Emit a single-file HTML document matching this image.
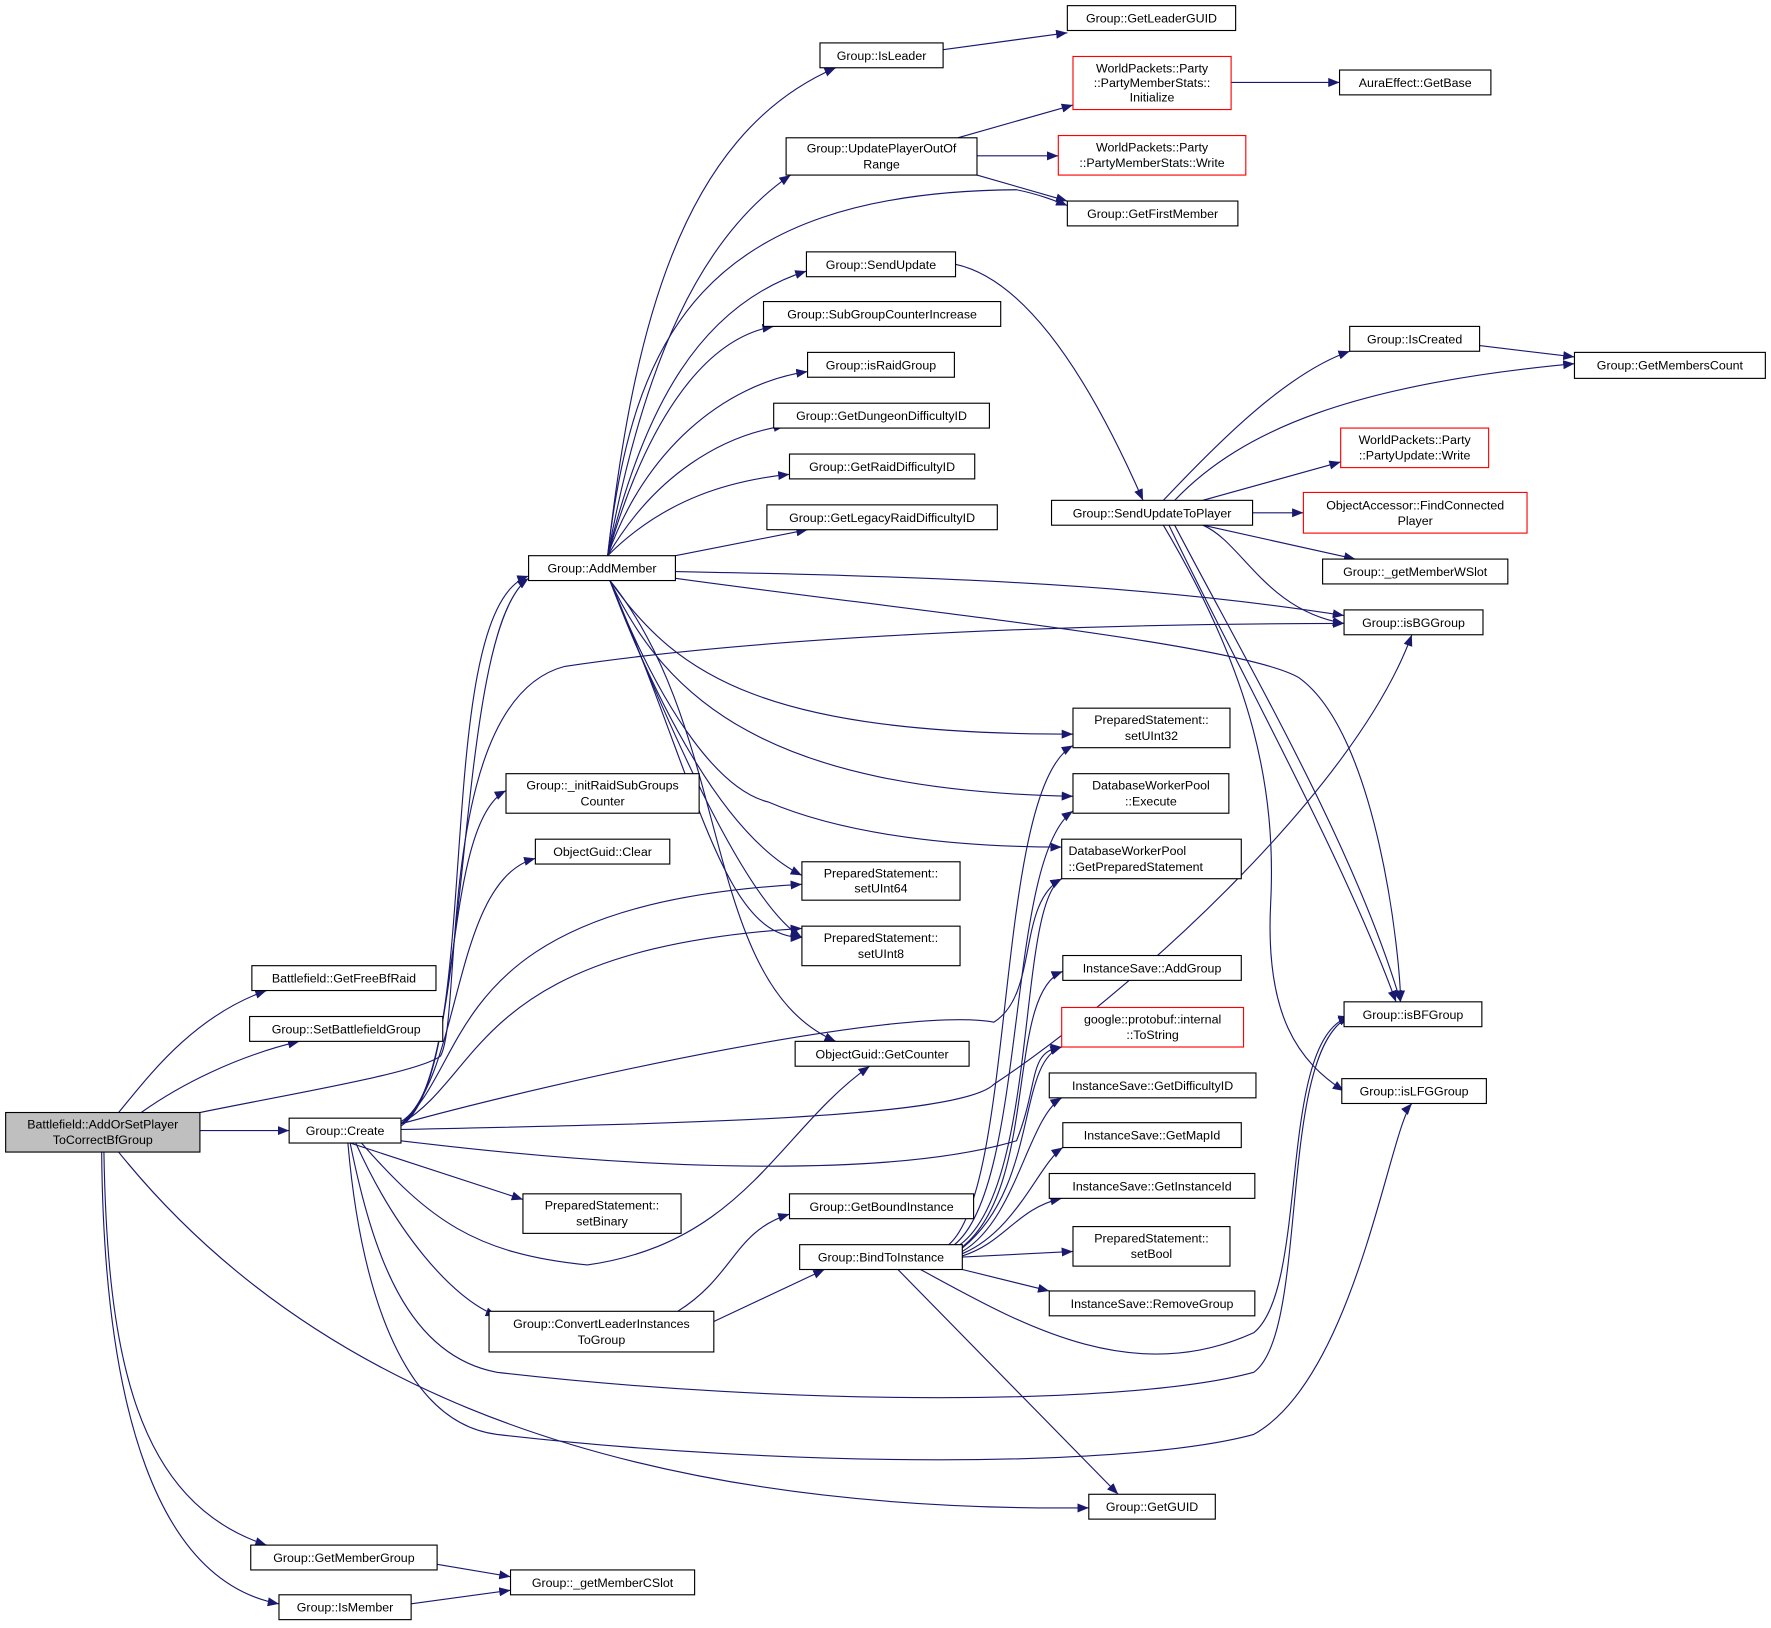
<!DOCTYPE html>
<html><head><meta charset="utf-8"><style>
html,body{margin:0;padding:0;background:#fff;}
svg{display:block;}
text{font-family:"Liberation Sans","DejaVu Sans",sans-serif;font-size:11px;fill:#000;}
.n{fill:#fff;stroke:#000;stroke-width:1;}
.r{fill:#fff;stroke:#f00;stroke-width:1;}
.e{fill:none;stroke:#191970;stroke-width:1;}
</style></head><body>
<svg width="1771" height="1628" viewBox="0 0 1568 1441.4" xmlns="http://www.w3.org/2000/svg">
<defs><marker id="a" viewBox="0 0 10 8" refX="10" refY="4" markerWidth="10" markerHeight="8" markerUnits="userSpaceOnUse" orient="auto"><path d="M0,0 L10,4 L0,8 z" fill="#191970"/></marker></defs>
<g class="e" marker-end="url(#a)">
<path d="M105,985 C130,955 170,900 236,877"/>
<path d="M125,985 C160,960 210,935 265,922"/>
<path d="M177,985 C260,968 370,950 390,935 C410,900 385,620 500,590 C700,560 1000,552 1190,552"/>
<path d="M177,1001 L256,1001"/>
<path d="M105,1020 C250,1200 500,1340 964,1335"/>
<path d="M92,1020 C95,1200 120,1330 236,1368"/>
<path d="M90,1020 C92,1250 140,1400 247,1420"/>
<path d="M387,1385 L452,1396"/>
<path d="M364,1420 L452,1408"/>
<path d="M355,995 C420,960 400,560 468,512"/>
<path d="M355,993 C430,950 380,540 468,510"/>
<path d="M355,997 C410,960 390,730 448,700"/>
<path d="M355,995 C410,950 400,780 474,760"/>
<path d="M355,995 C420,940 390,800 710,783"/>
<path d="M355,995 C430,950 420,840 710,822"/>
<path d="M355,995 C500,955 800,890 880,905 C920,880 900,800 940,778"/>
<path d="M355,1000 C600,995 850,990 880,960 C1000,880 1200,700 1250,562"/>
<path d="M355,1010 C600,1040 800,1040 900,1010 C920,960 910,930 940,927"/>
<path d="M310,1012 L463,1062"/>
<path d="M320,1012 C380,1080 420,1110 520,1120 C660,1100 690,1000 770,944"/>
<path d="M315,1012 C350,1090 400,1150 440,1165"/>
<path d="M310,1012 C330,1110 360,1200 440,1215 C700,1245 1000,1245 1110,1215 C1160,1180 1130,930 1195,900"/>
<path d="M308,1012 C320,1150 360,1260 440,1270 C700,1300 1000,1300 1110,1270 C1200,1220 1230,1000 1250,977"/>
<path d="M538,492 C560,300 600,120 740,60"/>
<path d="M538,492 C570,320 620,210 700,155"/>
<path d="M538,492 C560,300 620,170 900,168 C920,172 935,178 945,182"/>
<path d="M538,492 C570,360 620,270 714,240"/>
<path d="M538,492 C570,380 620,300 685,289"/>
<path d="M538,492 C570,400 640,340 715,329"/>
<path d="M538,492 C580,420 640,385 695,377"/>
<path d="M538,492 C590,440 650,425 699,420"/>
<path d="M598,492 L715,469"/>
<path d="M598,506 C800,510 1000,515 1190,545"/>
<path d="M598,512 C800,540 1100,570 1150,600 C1220,650 1240,850 1240,887"/>
<path d="M540,514 C600,600 680,650 950,650"/>
<path d="M540,514 C590,620 680,700 950,705"/>
<path d="M540,514 C590,640 640,700 680,710 C750,740 850,750 940,750"/>
<path d="M540,514 C580,620 640,740 710,775"/>
<path d="M540,514 C590,640 660,800 710,830"/>
<path d="M540,514 C620,700 640,830 710,830"/>
<path d="M540,514 C650,650 620,870 740,922"/>
<path d="M848,122 L950,93"/>
<path d="M865,138 L937,138"/>
<path d="M865,155 L945,178"/>
<path d="M1090,73 L1186,73"/>
<path d="M835,44 L945,29"/>
<path d="M846,234 C920,250 980,370 1012,443"/>
<path d="M1030,443 C1080,390 1140,330 1195,311"/>
<path d="M1040,443 C1100,380 1200,340 1394,322"/>
<path d="M1310,306 L1394,316"/>
<path d="M1065,443 L1187,409"/>
<path d="M1109,454 L1154,454"/>
<path d="M1065,465 L1200,495"/>
<path d="M1065,465 C1100,480 1120,540 1190,552"/>
<path d="M1040,465 C1100,580 1200,750 1240,887"/>
<path d="M1035,465 C1090,580 1190,760 1236,887"/>
<path d="M1030,465 C1110,600 1130,700 1125,800 C1120,900 1150,940 1190,966"/>
<path d="M600,1161 C650,1130 650,1090 699,1075"/>
<path d="M632,1170 L730,1124"/>
<path d="M840,1102 C900,1050 880,700 950,660"/>
<path d="M845,1102 C910,1050 890,760 950,718"/>
<path d="M850,1102 C920,1050 900,800 940,778"/>
<path d="M852,1104 C920,1050 890,880 941,860"/>
<path d="M852,1105 C920,1050 900,940 940,927"/>
<path d="M852,1108 C900,1080 910,990 940,972"/>
<path d="M852,1110 C900,1090 920,1030 941,1016"/>
<path d="M852,1112 C890,1100 900,1070 940,1061"/>
<path d="M852,1113 L950,1108"/>
<path d="M852,1124 L929,1143"/>
<path d="M795,1124 L990,1323"/>
<path d="M815,1124 C900,1170 1000,1230 1110,1180 C1160,1140 1130,920 1195,900"/>
</g>
<g>
<rect x="5" y="985" width="172" height="35" fill="#bfbfbf" stroke="#000"/>
<text x="91" y="999" text-anchor="middle">Battlefield::AddOrSetPlayer</text><text x="91" y="1013" text-anchor="middle">ToCorrectBfGroup</text>
<rect class="n" x="223" y="855" width="163" height="22"/><text x="304.5" y="870" text-anchor="middle">Battlefield::GetFreeBfRaid</text>
<rect class="n" x="221" y="900" width="171" height="22"/><text x="306.5" y="915" text-anchor="middle">Group::SetBattlefieldGroup</text>
<rect class="n" x="256" y="990" width="99" height="22"/><text x="305.5" y="1005" text-anchor="middle">Group::Create</text>
<rect class="n" x="222" y="1368" width="165" height="22"/><text x="304.5" y="1383" text-anchor="middle">Group::GetMemberGroup</text>
<rect class="n" x="247" y="1412" width="117" height="22"/><text x="305.5" y="1427" text-anchor="middle">Group::IsMember</text>
<rect class="n" x="452" y="1390" width="163" height="22"/><text x="533.5" y="1405" text-anchor="middle">Group::_getMemberCSlot</text>
<rect class="n" x="468" y="492" width="130" height="22"/><text x="533" y="507" text-anchor="middle">Group::AddMember</text>
<rect class="n" x="448" y="685" width="171" height="35"/><text x="533.5" y="699" text-anchor="middle">Group::_initRaidSubGroups</text><text x="533.5" y="713" text-anchor="middle">Counter</text>
<rect class="n" x="474" y="743" width="119" height="22"/><text x="533.5" y="758" text-anchor="middle">ObjectGuid::Clear</text>
<rect class="n" x="463" y="1057" width="140" height="35"/><text x="533" y="1071" text-anchor="middle">PreparedStatement::</text><text x="533" y="1085" text-anchor="middle">setBinary</text>
<rect class="n" x="433" y="1161" width="199" height="36"/><text x="532.5" y="1176" text-anchor="middle">Group::ConvertLeaderInstances</text><text x="532.5" y="1190" text-anchor="middle">ToGroup</text>
<rect class="n" x="726" y="38" width="109" height="22"/><text x="780.5" y="53" text-anchor="middle">Group::IsLeader</text>
<rect class="n" x="945" y="5" width="149" height="22"/><text x="1019.5" y="20" text-anchor="middle">Group::GetLeaderGUID</text>
<rect class="n" x="696" y="122" width="169" height="33"/><text x="780.5" y="135" text-anchor="middle">Group::UpdatePlayerOutOf</text><text x="780.5" y="149" text-anchor="middle">Range</text>
<rect class="r" x="950" y="50" width="140" height="47"/><text x="1020" y="64" text-anchor="middle">WorldPackets::Party</text><text x="1020" y="77" text-anchor="middle">::PartyMemberStats::</text><text x="1020" y="90" text-anchor="middle">Initialize</text>
<rect class="n" x="1186" y="62" width="134" height="22"/><text x="1253" y="77" text-anchor="middle">AuraEffect::GetBase</text>
<rect class="r" x="937" y="120" width="166" height="35"/><text x="1020" y="134" text-anchor="middle">WorldPackets::Party</text><text x="1020" y="148" text-anchor="middle">::PartyMemberStats::Write</text>
<rect class="n" x="945" y="178" width="151" height="22"/><text x="1020.5" y="193" text-anchor="middle">Group::GetFirstMember</text>
<rect class="n" x="714" y="223" width="132" height="22"/><text x="780" y="238" text-anchor="middle">Group::SendUpdate</text>
<rect class="n" x="676" y="267" width="210" height="22"/><text x="781" y="282" text-anchor="middle">Group::SubGroupCounterIncrease</text>
<rect class="n" x="715" y="312" width="130" height="22"/><text x="780" y="327" text-anchor="middle">Group::isRaidGroup</text>
<rect class="n" x="685" y="357" width="191" height="22"/><text x="780.5" y="372" text-anchor="middle">Group::GetDungeonDifficultyID</text>
<rect class="n" x="699" y="402" width="164" height="22"/><text x="781" y="417" text-anchor="middle">Group::GetRaidDifficultyID</text>
<rect class="n" x="679" y="447" width="204" height="22"/><text x="781" y="462" text-anchor="middle">Group::GetLegacyRaidDifficultyID</text>
<rect class="n" x="931" y="443" width="178" height="22"/><text x="1020" y="458" text-anchor="middle">Group::SendUpdateToPlayer</text>
<rect class="n" x="1195" y="289" width="115" height="22"/><text x="1252.5" y="304" text-anchor="middle">Group::IsCreated</text>
<rect class="n" x="1394" y="312" width="169" height="23"/><text x="1478.5" y="327" text-anchor="middle">Group::GetMembersCount</text>
<rect class="r" x="1187" y="379" width="131" height="35"/><text x="1252.5" y="393" text-anchor="middle">WorldPackets::Party</text><text x="1252.5" y="407" text-anchor="middle">::PartyUpdate::Write</text>
<rect class="r" x="1154" y="436" width="198" height="36"/><text x="1253" y="451" text-anchor="middle">ObjectAccessor::FindConnected</text><text x="1253" y="465" text-anchor="middle">Player</text>
<rect class="n" x="1171" y="495" width="164" height="22"/><text x="1253" y="510" text-anchor="middle">Group::_getMemberWSlot</text>
<rect class="n" x="1190" y="540" width="123" height="22"/><text x="1251.5" y="555" text-anchor="middle">Group::isBGGroup</text>
<rect class="n" x="950" y="627" width="139" height="35"/><text x="1019.5" y="641" text-anchor="middle">PreparedStatement::</text><text x="1019.5" y="655" text-anchor="middle">setUInt32</text>
<rect class="n" x="950" y="685" width="138" height="35"/><text x="1019" y="699" text-anchor="middle">DatabaseWorkerPool</text><text x="1019" y="713" text-anchor="middle">::Execute</text>
<rect class="n" x="940" y="743" width="159" height="35"/><text x="946" y="757">DatabaseWorkerPool</text><text x="946" y="771">::GetPreparedStatement</text>
<rect class="n" x="710" y="763" width="140" height="34"/><text x="780" y="777" text-anchor="middle">PreparedStatement::</text><text x="780" y="790" text-anchor="middle">setUInt64</text>
<rect class="n" x="710" y="820" width="140" height="35"/><text x="780" y="834" text-anchor="middle">PreparedStatement::</text><text x="780" y="848" text-anchor="middle">setUInt8</text>
<rect class="n" x="704" y="922" width="154" height="22"/><text x="781" y="937" text-anchor="middle">ObjectGuid::GetCounter</text>
<rect class="n" x="941" y="846" width="158" height="22"/><text x="1020" y="861" text-anchor="middle">InstanceSave::AddGroup</text>
<rect class="r" x="940" y="892" width="161" height="35"/><text x="1020.5" y="906" text-anchor="middle">google::protobuf::internal</text><text x="1020.5" y="920" text-anchor="middle">::ToString</text>
<rect class="n" x="929" y="950" width="183" height="22"/><text x="1020.5" y="965" text-anchor="middle">InstanceSave::GetDifficultyID</text>
<rect class="n" x="941" y="994" width="158" height="22"/><text x="1020" y="1009" text-anchor="middle">InstanceSave::GetMapId</text>
<rect class="n" x="929" y="1039" width="182" height="22"/><text x="1020" y="1054" text-anchor="middle">InstanceSave::GetInstanceId</text>
<rect class="n" x="950" y="1086" width="139" height="35"/><text x="1019.5" y="1100" text-anchor="middle">PreparedStatement::</text><text x="1019.5" y="1114" text-anchor="middle">setBool</text>
<rect class="n" x="929" y="1143" width="182" height="22"/><text x="1020" y="1158" text-anchor="middle">InstanceSave::RemoveGroup</text>
<rect class="n" x="699" y="1057" width="163" height="22"/><text x="780.5" y="1072" text-anchor="middle">Group::GetBoundInstance</text>
<rect class="n" x="708" y="1102" width="144" height="22"/><text x="780" y="1117" text-anchor="middle">Group::BindToInstance</text>
<rect class="n" x="1190" y="887" width="122" height="22"/><text x="1251" y="902" text-anchor="middle">Group::isBFGroup</text>
<rect class="n" x="1188" y="955" width="128" height="22"/><text x="1252" y="970" text-anchor="middle">Group::isLFGGroup</text>
<rect class="n" x="964" y="1323" width="112" height="22"/><text x="1020" y="1338" text-anchor="middle">Group::GetGUID</text>
</g>
</svg>
</body></html>
